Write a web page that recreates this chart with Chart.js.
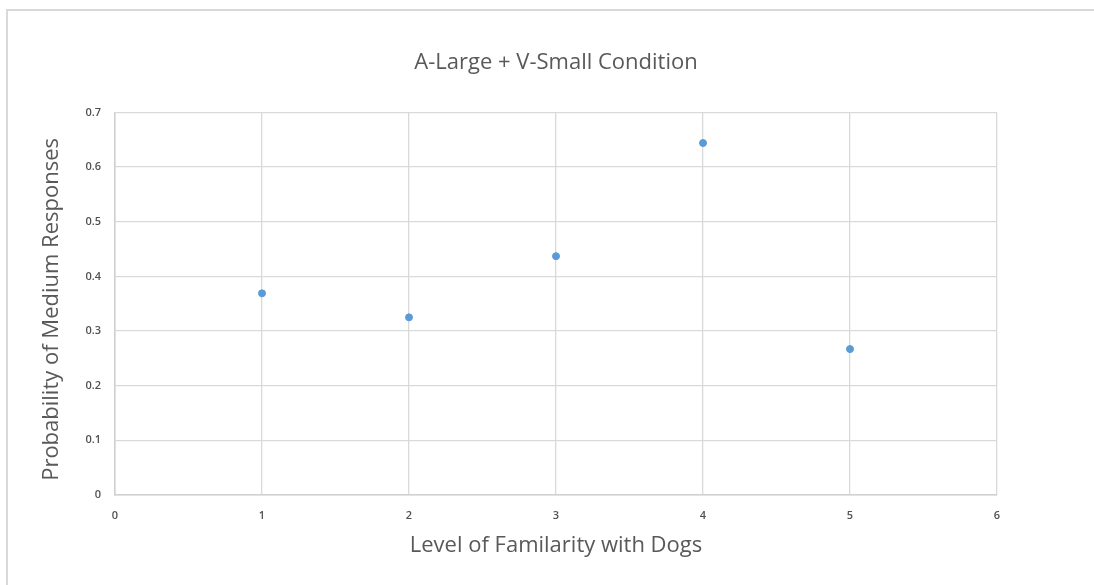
<!DOCTYPE html>
<html>
<head>
<meta charset="utf-8">
<script src="https://cdn.jsdelivr.net/npm/chart.js@4.4.1/dist/chart.umd.min.js"></script>
<style>
  html, body { margin: 0; padding: 0; background: #fff; }
  #wrap { width: 1094px; height: 585px; position: relative; }
</style>
</head>
<body>
<div id="wrap"><canvas id="c" width="1094" height="585"></canvas></div>
<script>
// Familiarity level and the share of "medium" responses at each level
const familiarityLevels = [1, 2, 3, 4, 5];
const mediumProbability = [0.369, 0.325, 0.437, 0.644, 0.267];

const xTicks = [0, 1, 2, 3, 4, 5, 6];
const yTicks = [0, 0.1, 0.2, 0.3, 0.4, 0.5, 0.6, 0.7];

const chartTitle = 'A-Large + V-Small Condition';
const xTitle = 'Level of Familarity with Dogs';
const yTitle = 'Probability of Medium Responses';

const textColor = '#595959';
const gridColor = '#d9d9d9';
const fontFamily = '"Open Sans", Lato, sans-serif';

// light frame around the whole chart
const frame = {
  id: 'frame',
  beforeDraw(chart) {
    const ctx = chart.ctx;
    ctx.save();
    ctx.strokeStyle = '#d9d9d9';
    ctx.lineWidth = 2;
    ctx.strokeRect(7, 10, 2000, 2000);
    ctx.restore();
  }
};

new Chart(document.getElementById('c'), {
  type: 'scatter',
  data: {
    datasets: [{
      data: familiarityLevels.map((x, i) => ({ x, y: mediumProbability[i] })),
      backgroundColor: '#5b9bd5',
      borderColor: '#5b9bd5',
      pointRadius: 3.5,
      pointHoverRadius: 3.5
    }]
  },
  options: {
    responsive: false,
    animation: false,
    layout: { padding: { top: 0, right: 97, bottom: 0, left: 0 } },
    plugins: {
      legend: { display: false },
      tooltip: { enabled: false },
      title: {
        display: true,
        fullSize: false,
        text: chartTitle,
        color: textColor,
        font: { family: fontFamily, size: 22, weight: 'normal' },
        padding: { top: 50, bottom: 36 }
      }
    },
    scales: {
      x: {
        type: 'linear',
        min: 0,
        max: 6,
        afterBuildTicks: s => { s.ticks = xTicks.map(v => ({ value: v })); },
        afterFit: s => { s.height = 90; },
        grid: { color: gridColor, lineWidth: 1.3, drawTicks: false },
        border: { color: '#d0d0d0', width: 1.5 },
        ticks: {
          color: '#505050',
          font: { family: fontFamily, size: 11, weight: '600' },
          padding: 14,
          callback: v => String(v)
        },
        title: {
          display: true,
          text: xTitle,
          color: textColor,
          font: { family: fontFamily, size: 22 },
          padding: { top: 0, bottom: 26 }
        }
      },
      y: {
        type: 'linear',
        min: 0,
        max: 0.7,
        afterBuildTicks: s => { s.ticks = yTicks.map(v => ({ value: v })); },
        afterFit: s => { s.width = 115; },
        grid: { color: gridColor, lineWidth: 1.3, drawTicks: false },
        border: { color: '#d0d0d0', width: 1.5 },
        ticks: {
          color: '#505050',
          font: { family: fontFamily, size: 11, weight: '600' },
          padding: 14,
          callback: v => String(Math.round(v * 10) / 10)
        },
        title: {
          display: true,
          // two trailing spaces nudge the rotated title slightly downward
          text: yTitle + '  ',
          color: textColor,
          font: { family: fontFamily, size: 22 },
          padding: { top: 39, bottom: 0 }
        }
      }
    }
  },
  plugins: [frame]
});
</script>
</body>
</html>
